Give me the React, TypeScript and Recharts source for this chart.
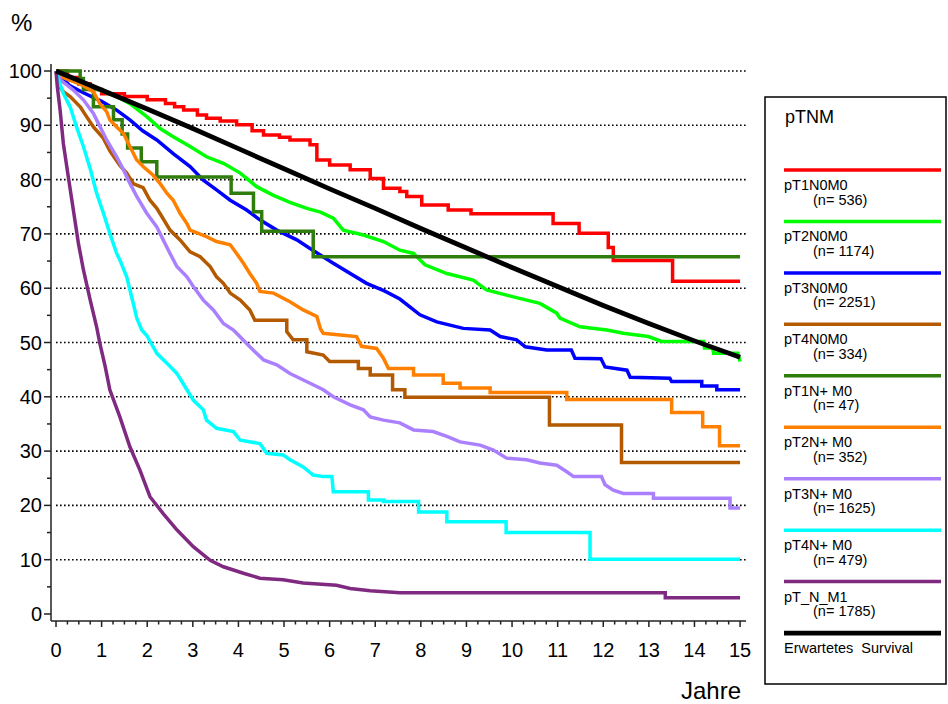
import React from 'react';
import { LineChart, Line, XAxis, YAxis, ReferenceLine } from 'recharts';

const FONT = '"Liberation Sans", Arial, Helvetica, sans-serif';

// Survival curves: [Jahre, %]
const T1N0M0: [number, number][] = [
  [0, 100], [0.25, 98.8], [0.5, 97.6], [0.75, 96.6], [1.0, 95.8], [1.5, 95.3], [2.0, 94.7],
  [2.4, 94.0], [2.6, 93.4], [2.8, 92.8], [3.1, 91.9], [3.3, 91.3], [3.6, 90.8], [3.96, 90.1],
  [4.3, 89.0], [4.55, 88.2], [4.9, 87.8], [5.13, 87.3], [5.57, 86.4], [5.72, 83.6], [6.0, 82.7],
  [6.45, 81.8], [6.89, 80.2], [7.18, 78.4], [7.54, 77.8], [7.69, 76.9], [8.02, 75.3], [8.6, 74.4],
  [9.1, 73.7], [10.9, 71.9], [11.47, 70.1], [12.11, 67.5], [12.22, 65.1], [13.52, 61.3], [15, 61.3],
];

const T2N0M0: [number, number][] = [
  [0, 100], [0.31, 98.3], [0.96, 96.5], [1.33, 95.3], [1.62, 94.0], [1.99, 91.6], [2.3, 89.3],
  [2.57, 87.9], [2.94, 86.1], [3.3, 84.2], [3.67, 83.0], [4.04, 81.2], [4.4, 78.7], [4.77, 77.1],
  [5.13, 75.8], [5.5, 74.7], [5.8, 74.0], [6.08, 72.9], [6.3, 70.7], [6.74, 69.8], [7.18, 68.6],
  [7.54, 67.0], [7.84, 66.4], [8.09, 64.3], [8.57, 62.7], [9.15, 61.5], [9.44, 59.7], [10.03, 58.4],
  [10.61, 57.2], [10.98, 55.4], [11.05, 54.5], [11.49, 52.9], [12.08, 52.3], [12.44, 51.7],
  [12.99, 51.1], [13.28, 50.2], [14.2, 50.2], [14.22, 49.0], [14.4, 49.0], [14.42, 48.0],
  [14.95, 48.0], [15, 46.5],
];

const T3N0M0: [number, number][] = [
  [0, 100], [0.3, 97.3], [0.6, 96.0], [1.0, 94.4], [1.33, 92.8], [1.62, 91.0], [1.9, 89.0],
  [2.21, 87.3], [2.57, 84.8], [2.94, 82.4], [3.23, 79.9], [3.52, 78.1], [3.82, 76.2], [4.18, 74.4],
  [4.47, 72.6], [4.84, 70.7], [5.28, 68.9], [5.57, 67.3], [6.08, 64.6], [6.81, 60.9], [7.2, 59.5],
  [7.54, 58.0], [7.98, 55.1], [8.35, 53.8], [8.93, 52.6], [9.52, 52.3], [9.74, 51.1], [10.1, 50.5],
  [10.29, 49.2], [10.76, 48.6], [11.3, 48.6], [11.38, 47.1], [11.95, 47.0], [12.04, 45.5],
  [12.52, 44.9], [12.59, 43.6], [13.46, 43.4], [13.5, 42.8], [14.16, 42.8], [14.16, 42.0],
  [14.49, 42.0], [14.49, 41.3], [15, 41.3],
];

const T4N0M0: [number, number][] = [
  [0, 100], [0.05, 97.5], [0.16, 96.2], [0.31, 95.3], [0.53, 93.4], [0.67, 91.6], [0.82, 89.7],
  [1.04, 87.6], [1.18, 85.3], [1.4, 82.6], [1.55, 81.2], [1.7, 79.2], [1.91, 78.5], [2.06, 76.2],
  [2.21, 74.7], [2.32, 73.2], [2.5, 70.7], [2.72, 68.9], [2.94, 66.7], [3.16, 65.8], [3.38, 64.0],
  [3.52, 62.1], [3.67, 60.9], [3.82, 59.1], [4.04, 57.8], [4.25, 56.0], [4.36, 54.1], [5.06, 54.1],
  [5.06, 52.0], [5.2, 50.5], [5.5, 50.5], [5.5, 48.3], [5.86, 47.7], [6.0, 46.5], [6.63, 46.5],
  [6.63, 45.2], [6.89, 45.2], [6.89, 44.0], [7.38, 44.0], [7.38, 41.3], [7.65, 41.3], [7.65, 39.9],
  [10.82, 39.9], [10.82, 34.8], [12.4, 34.8], [12.4, 27.9], [15, 27.9],
];

const T1NPM0: [number, number][] = [
  [0, 100], [0.53, 98.6], [0.6, 96.6], [0.82, 93.4], [1.26, 91.0], [1.45, 88.4], [1.57, 85.8],
  [1.87, 83.3], [2.21, 80.5], [3.84, 77.5], [4.33, 74.1], [4.51, 70.5], [5.64, 65.8], [15, 65.8],
];

const T2NPM0: [number, number][] = [
  [0, 100], [0.15, 98.8], [0.31, 98.3], [0.6, 97.3], [0.82, 96.2], [0.96, 94.0], [1.11, 92.5],
  [1.18, 91.0], [1.33, 89.7], [1.48, 88.5], [1.62, 86.1], [1.77, 83.6], [1.91, 82.4], [2.13, 80.8],
  [2.28, 79.3], [2.43, 77.5], [2.57, 76.2], [2.72, 73.8], [2.87, 71.9], [2.94, 70.7], [3.3, 69.5],
  [3.52, 68.6], [3.82, 68.0], [3.96, 66.4], [4.11, 64.6], [4.25, 62.7], [4.4, 60.9], [4.47, 59.4],
  [4.77, 59.1], [5.13, 57.5], [5.42, 56.0], [5.72, 54.8], [5.8, 52.5], [5.86, 51.7], [6.23, 51.4],
  [6.59, 51.1], [6.7, 49.3], [7.03, 48.9], [7.18, 47.1], [7.29, 45.2], [7.84, 45.2], [7.84, 44.0],
  [8.49, 44.0], [8.49, 42.5], [8.86, 42.5], [8.86, 41.6], [9.52, 41.6], [9.52, 40.8], [11.2, 40.8],
  [11.2, 39.5], [13.5, 39.5], [13.5, 37.1], [14.18, 37.1], [14.18, 34.5], [14.55, 34.5],
  [14.55, 31.0], [15, 31.0],
];

const T3NPM0: [number, number][] = [
  [0, 100], [0.1, 98.3], [0.23, 97.5], [0.38, 96.5], [0.6, 94.7], [0.82, 92.2], [0.89, 91.0],
  [1.11, 87.3], [1.33, 84.2], [1.48, 81.8], [1.62, 79.3], [1.77, 76.9], [1.99, 73.8], [2.21, 71.3],
  [2.35, 68.9], [2.5, 66.4], [2.65, 64.0], [2.87, 62.1], [3.01, 60.3], [3.23, 57.8], [3.45, 56.0],
  [3.67, 53.5], [3.89, 52.3], [3.96, 51.7], [4.25, 49.2], [4.55, 46.8], [4.84, 45.9], [5.13, 44.3],
  [5.57, 42.5], [5.86, 41.3], [6.08, 40.0], [6.45, 38.5], [6.74, 37.6], [6.89, 36.3], [7.18, 35.7],
  [7.54, 35.2], [7.84, 33.9], [8.27, 33.6], [8.57, 32.7], [8.86, 31.7], [9.3, 31.1], [9.59, 30.2],
  [9.88, 28.7], [10.32, 28.4], [10.61, 27.8], [10.98, 27.4], [11.2, 26.2], [11.35, 25.3],
  [11.96, 25.3], [12.04, 23.8], [12.22, 22.8], [12.44, 22.2], [13.1, 22.2], [13.1, 21.3],
  [14.78, 21.3], [14.78, 19.5], [15, 19.5],
];

const T4NPM0: [number, number][] = [
  [0, 100], [0.05, 98.5], [0.16, 95.9], [0.31, 93.4], [0.45, 89.7], [0.6, 86.1], [0.75, 82.0],
  [0.89, 77.5], [1.04, 73.8], [1.18, 70.1], [1.33, 66.4], [1.4, 65.2], [1.55, 62.1], [1.62, 59.7],
  [1.7, 57.0], [1.77, 54.5], [1.88, 52.3], [1.99, 51.3], [2.21, 48.0], [2.43, 46.2], [2.65, 44.3],
  [2.87, 41.3], [3.01, 39.4], [3.23, 37.6], [3.3, 35.7], [3.52, 34.2], [3.89, 33.6], [4.04, 32.0],
  [4.47, 31.4], [4.62, 29.6], [4.98, 29.3], [5.13, 28.4], [5.42, 27.1], [5.64, 25.6], [5.86, 25.3],
  [6.05, 25.3], [6.08, 22.5], [6.85, 22.5], [6.85, 21.0], [7.18, 21.0], [7.18, 20.7], [7.95, 20.7],
  [7.95, 18.8], [8.57, 18.8], [8.57, 17.0], [9.87, 17.0], [9.87, 15.0], [11.71, 15.0],
  [11.71, 10.1], [15, 10.1],
];

const TNM1: [number, number][] = [
  [0, 100], [0.03, 97.0], [0.09, 92.8], [0.16, 86.7], [0.27, 80.5], [0.38, 74.4], [0.49, 68.3],
  [0.6, 63.4], [0.75, 57.8], [0.89, 52.9], [0.96, 49.9], [1.08, 45.5], [1.18, 41.3], [1.4, 36.3],
  [1.62, 30.8], [1.84, 26.5], [2.06, 21.6], [2.35, 18.5], [2.65, 15.5], [3.01, 12.4], [3.38, 9.9],
  [3.67, 8.7], [4.11, 7.5], [4.47, 6.6], [4.98, 6.3], [5.42, 5.7], [6.15, 5.3], [6.45, 4.7],
  [6.89, 4.3], [7.54, 3.9], [13.36, 3.9], [13.36, 3.0], [15, 3.0],
];

const EXPECTED: [number, number][] = [
  [0, 100], [1, 96.5], [2, 93.0], [3, 89.4], [4, 85.7], [5, 82.0], [6, 78.3], [7, 74.7],
  [8, 71.0], [9, 67.4], [10, 63.8], [11, 60.3], [12, 56.8], [13, 53.5], [14, 50.3], [15, 47.3],
];

const SERIES = [
  { name: 'pT1N0M0', n: '(n= 536)', color: '#ff0000', pts: T1N0M0, step: true, width: 3.5 },
  { name: 'pT2N0M0', n: '(n= 1174)', color: '#00ff00', pts: T2N0M0, step: false, width: 3.5 },
  { name: 'pT3N0M0', n: '(n= 2251)', color: '#0000ff', pts: T3N0M0, step: false, width: 3.5 },
  { name: 'pT4N0M0', n: '(n= 334)', color: '#b35900', pts: T4N0M0, step: false, width: 3.5 },
  { name: 'pT1N+ M0', n: '(n= 47)', color: '#2f7d0c', pts: T1NPM0, step: true, width: 3.5 },
  { name: 'pT2N+ M0', n: '(n= 352)', color: '#ff8000', pts: T2NPM0, step: false, width: 3.5 },
  { name: 'pT3N+ M0', n: '(n= 1625)', color: '#aa80ff', pts: T3NPM0, step: false, width: 3.5 },
  { name: 'pT4N+ M0', n: '(n= 479)', color: '#00ffff', pts: T4NPM0, step: false, width: 3.5 },
  { name: 'pT_N_M1', n: '(n= 1785)', color: '#7f2a80', pts: TNM1, step: false, width: 3.5 },
  { name: 'Erwartetes  Survival', n: '', color: '#000000', pts: EXPECTED, step: false, width: 4.8 },
];

const Y_TICKS = [0, 5, 10, 15, 20, 25, 30, 35, 40, 45, 50, 55, 60, 65, 70, 75, 80, 85, 90, 95, 100];
const GRID_VALUES = [10, 20, 30, 40, 50, 60, 70, 80, 90, 100];
const X_TICKS = [0, 1, 2, 3, 4, 5, 6, 7, 8, 9, 10, 11, 12, 13, 14, 15];
const X_ALL_TICKS = X_TICKS.flatMap((t) => (t < 15 ? [t, t + 0.25, t + 0.5, t + 0.75] : [t]));

const AXIS_COLOR = '#222';

function YTick(props: any) {
  const { x, y, payload } = props;
  const major = payload.value % 10 === 0;
  return (
    <g>
      <line x1={x - (major ? 7 : 4)} x2={x} y1={y} y2={y} stroke={AXIS_COLOR} strokeWidth={1.5} />
      {major && (
        <text x={x - 9} y={y} textAnchor="end" dominantBaseline="central" fontSize={20} fontFamily={FONT} fill="#000">
          {payload.value}
        </text>
      )}
    </g>
  );
}

function XTick(props: any) {
  const { x, y, payload } = props;
  const major = Number.isInteger(payload.value);
  return (
    <g>
      <line x1={x} x2={x} y1={y} y2={y + (major ? 6 : 3.5)} stroke={AXIS_COLOR} strokeWidth={1.5} />
      {major && (
        <text x={x} y={y + 29} textAnchor="middle" dominantBaseline="central" fontSize={20} fontFamily={FONT} fill="#000">
          {payload.value}
        </text>
      )}
    </g>
  );
}

function LegendBox() {
  const step = 51.45;
  return (
    <g fontFamily={FONT} fill="#000">
      <rect x={765} y={97} width={181} height={587} fill="none" stroke="#000" strokeWidth={1.5} />
      <text x={785} y={123} fontSize={18}>pTNM</text>
      {SERIES.map((s, i) => {
        const ly = 170 + step * i;
        return (
          <g key={s.name}>
            <line x1={784} x2={941} y1={ly} y2={ly} stroke={s.color} strokeWidth={s.width} />
            <text x={784} y={ly + 20} fontSize={14.5} style={{ whiteSpace: 'pre' }}>{s.name}</text>
            {s.n && <text x={813} y={ly + 34.5} fontSize={14.5}>{s.n}</text>}
          </g>
        );
      })}
    </g>
  );
}

export default function App() {
  return (
    <div style={{ position: 'absolute', left: 0, top: 0, width: 948, height: 704, background: '#fff' }}>
      <LineChart width={948} height={704} margin={{ top: 64, right: 202, bottom: 43, left: 0 }}>
        <XAxis
          dataKey="t"
          type="number"
          domain={[-0.11, 15.13]}
          allowDataOverflow
          ticks={X_ALL_TICKS}
          interval={0}
          tickSize={0}
          tickMargin={0}
          tickLine={false}
          tick={<XTick />}
          height={40}
          axisLine={{ stroke: AXIS_COLOR, strokeWidth: 1.5 }}
        />
        <YAxis
          type="number"
          domain={[-1.29, 101.29]}
          allowDataOverflow
          ticks={Y_TICKS}
          interval={0}
          tickSize={0}
          tickMargin={0}
          tickLine={false}
          tick={<YTick />}
          width={51}
          axisLine={{ stroke: AXIS_COLOR, strokeWidth: 1.5 }}
        />
        {GRID_VALUES.map((v) => (
          <ReferenceLine
            key={v}
            segment={[{ x: 0, y: v }, { x: 15.13, y: v }]}
            stroke="#000"
            strokeWidth={1.6}
            strokeDasharray="1.6 2.4"
          />
        ))}
        {SERIES.map((s) => (
          <Line
            key={s.name}
            name={s.name}
            data={s.pts.map(([t, v]) => ({ t, v }))}
            dataKey="v"
            type={s.step ? 'stepAfter' : 'linear'}
            stroke={s.color}
            strokeWidth={s.width}
            dot={false}
            activeDot={false}
            isAnimationActive={false}
          />
        ))}
      </LineChart>
      <svg width={948} height={704} style={{ position: 'absolute', left: 0, top: 0, pointerEvents: 'none' }}>
        <text x={11} y={31} fontSize={24} fontFamily={FONT} fill="#000">%</text>
        <text x={741} y={699} fontSize={24} fontFamily={FONT} fill="#000" textAnchor="end">Jahre</text>
        <LegendBox />
      </svg>
    </div>
  );
}
